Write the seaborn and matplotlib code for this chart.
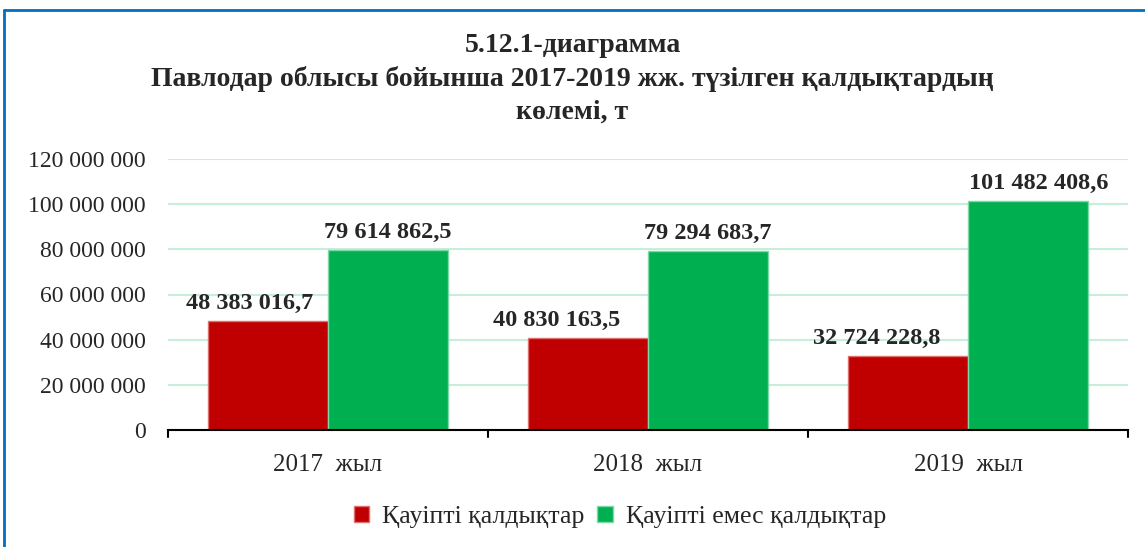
import matplotlib
matplotlib.use("Agg")
import matplotlib.pyplot as plt
from matplotlib.lines import Line2D
from matplotlib.patches import Patch
import seaborn as sns
import pandas as pd

years = ["2017  жыл", "2018  жыл", "2019  жыл"]
series_names = ["Қауіпті қалдықтар", "Қауіпті емес қалдықтар"]
hazardous = [48383016.7, 40830163.5, 32724228.8]
non_hazardous = [79614862.5, 79294683.7, 101482408.6]
y_ticks = [0, 20000000, 40000000, 60000000, 80000000, 100000000, 120000000]
title_lines = ["5.12.1-диаграмма",
               "Павлодар облысы бойынша 2017-2019 жж. түзілген қалдықтардың",
               "көлемі, т"]

colors = ["#C00000", "#00B050"]
edges = ["#E07070", "#7FD8A8"]

sns.set_theme(style="white")
plt.rcParams["font.family"] = ["Liberation Serif", "DejaVu Serif"]

df = pd.DataFrame({
    "year": years * 2,
    "kind": [series_names[0]] * 3 + [series_names[1]] * 3,
    "value": hazardous + non_hazardous,
})

fig = plt.figure(figsize=(11.45, 5.47), dpi=100)
ax = fig.add_axes([168 / 1145, 1 - 430 / 547, 960 / 1145, 271 / 547])

sns.barplot(data=df, x="year", y="value", hue="kind", palette=colors,
            width=0.75, gap=0, ax=ax, legend=False, saturation=1,
            errorbar=None)

for i, cont in enumerate(ax.containers):
    for bar in cont:
        bar.set_edgecolor(edges[i])
        bar.set_linewidth(1.0)

ax.set_ylim(0, 120000000)
ax.set_xlim(-0.5, 2.5)
ax.set_yticks(y_ticks)
ax.set_yticklabels([f"{v:,}".replace(",", " ") for v in y_ticks], fontsize=17)
ax.yaxis.grid(True, color="#C6EFD9", linewidth=1.5)
ax.set_axisbelow(True)
ax.tick_params(axis="y", length=0, pad=16)
ax.tick_params(axis="x", length=0, pad=17, labelsize=18)
ax.set_xlabel("")
ax.set_ylabel("")
for s in ["top", "right", "left"]:
    ax.spines[s].set_visible(False)
ax.spines["bottom"].set_color("black")
ax.spines["bottom"].set_linewidth(1.5)

# category boundary ticks below the axis
for xb in [-0.5, 0.5, 1.5, 2.5]:
    ax.add_line(Line2D([xb, xb], [0, -0.026], transform=ax.get_xaxis_transform(),
                       color="black", linewidth=1.5, clip_on=False))


def fmt(v):
    whole, frac = f"{v:,.1f}".split(".")
    return whole.replace(",", " ") + "," + frac


# horizontal nudges (pixels) for the value labels
label_dx = [[-18, -31, -31], [0, 0, 11]]
for i, cont in enumerate(ax.containers):
    vals = hazardous if i == 0 else non_hazardous
    for j, bar in enumerate(cont):
        ax.annotate(fmt(vals[j]),
                    (bar.get_x() + bar.get_width() / 2, bar.get_height()),
                    xytext=(label_dx[i][j], 7), textcoords="offset pixels",
                    ha="center", va="bottom", fontsize=17.5, fontweight="bold")

for k, yy in enumerate([45, 79, 112]):
    fig.text(0.5, 1 - yy / 547, title_lines[k], ha="center", va="center",
             fontsize=20, fontweight="bold")

handles = [Patch(facecolor=colors[k], edgecolor=edges[k], linewidth=1.0)
           for k in range(2)]
fig.legend(handles, series_names, loc="center", ncol=2,
           bbox_to_anchor=(620 / 1145, 1 - 517 / 547), frameon=False,
           fontsize=18.5, handlelength=0.6, handleheight=0.6,
           handletextpad=0.5, columnspacing=0.5)

# blue frame along the top and left edges
fig.add_artist(Line2D([4 / 1145, 1.0], [1 - 10 / 547, 1 - 10 / 547],
                      transform=fig.transFigure, color="#0070C0", linewidth=2))
fig.add_artist(Line2D([4 / 1145, 4 / 1145], [0, 1 - 10 / 547],
                      transform=fig.transFigure, color="#0070C0", linewidth=2))

fig.savefig("out.png", dpi=100)
